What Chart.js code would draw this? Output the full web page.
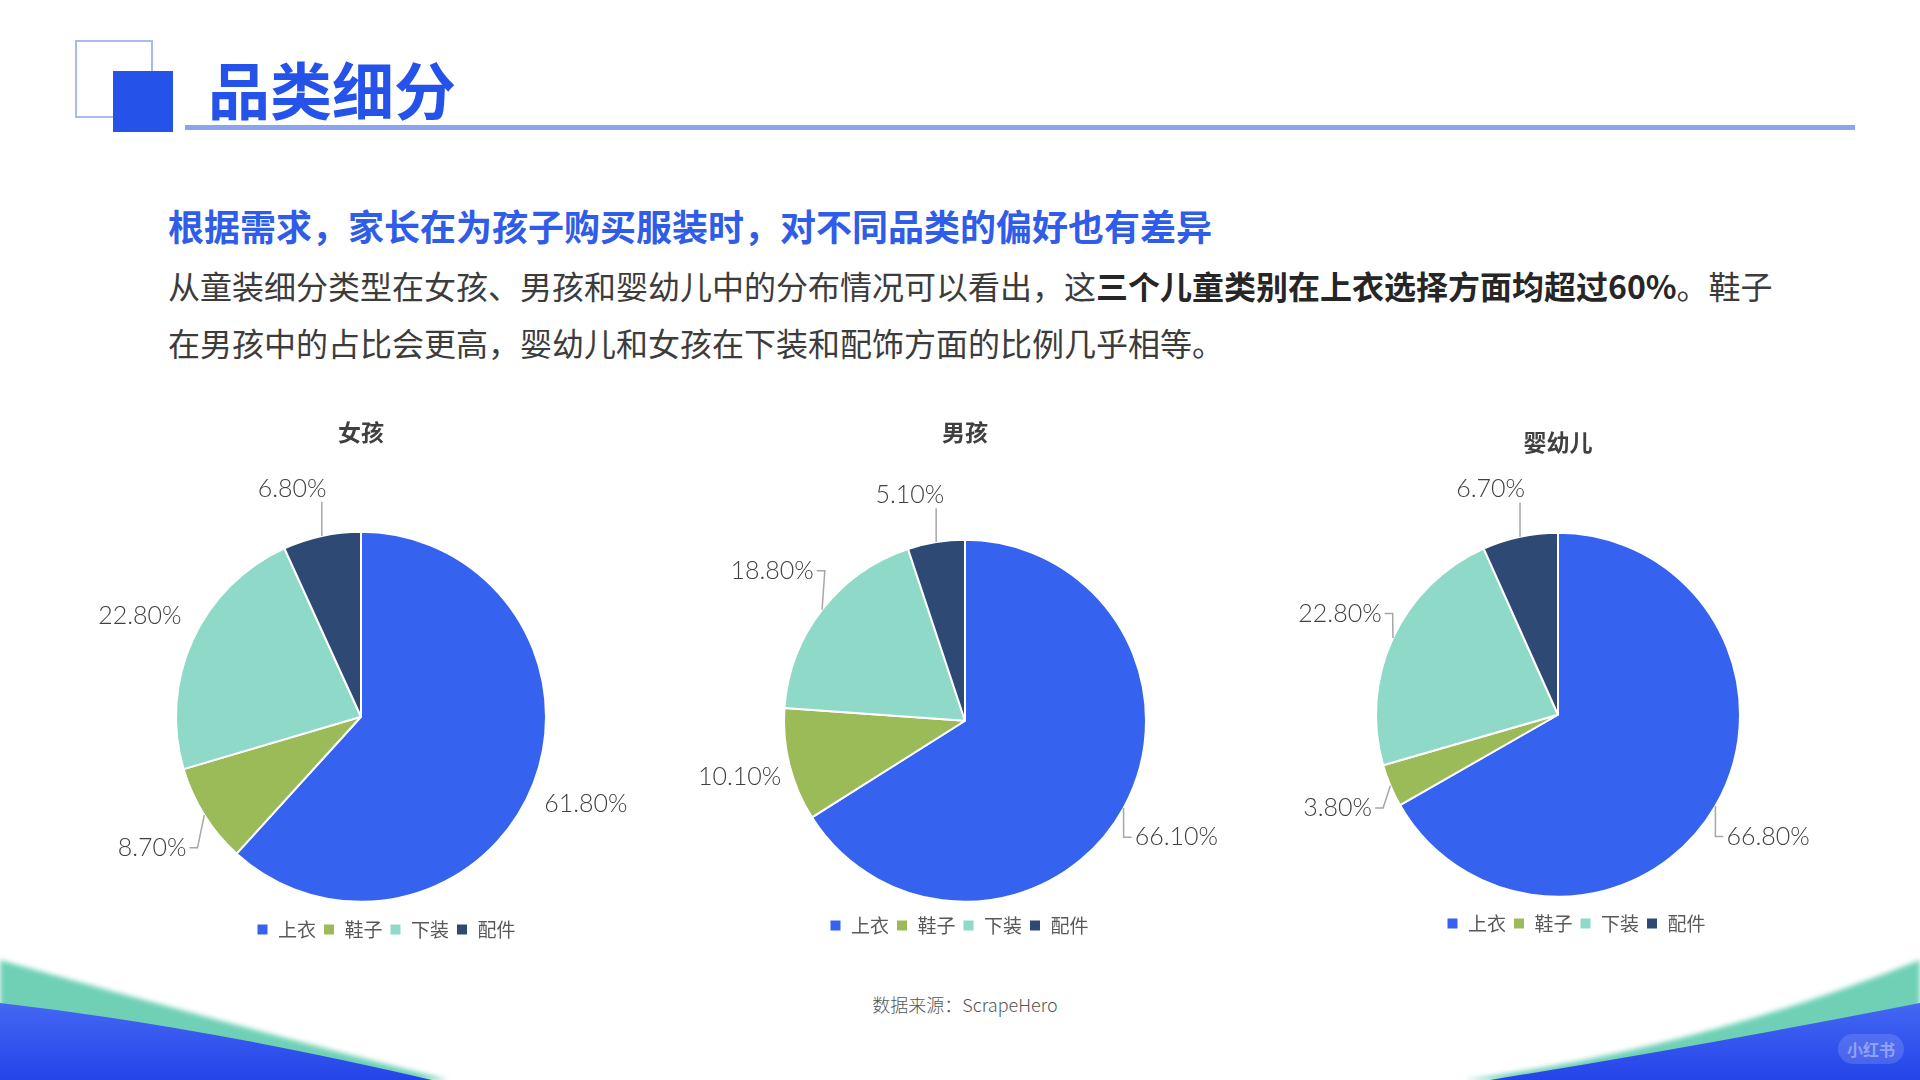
<!DOCTYPE html>
<html lang="zh-CN">
<head>
<meta charset="utf-8">
<title>品类细分</title>
<script src="https://cdn.jsdelivr.net/npm/chart.js@4.4.1/dist/chart.umd.min.js"></script>
<style>
  html, body { margin: 0; padding: 0; }
  body {
    width: 1920px; height: 1080px; position: relative; overflow: hidden;
    background: #fff;
    font-family: "Noto Sans CJK SC", "Noto Sans", sans-serif;
  }
  .sq-outline { position: absolute; left: 75px; top: 40px; width: 74px; height: 74px; border: 2px solid #a9b9f2; background: #fff; }
  .sq-fill { position: absolute; left: 113px; top: 71px; width: 60px; height: 61px; background: #2553ea; }
  .title { position: absolute; left: 208px; top: 50px; font-size: 62px; font-weight: 700; color: #2553ea; line-height: 76px; }
  .title-line { position: absolute; left: 185px; top: 125px; width: 1670px; height: 5px; background: #8aa5f0; }
  .subtitle { position: absolute; left: 168px; top: 203px; font-size: 36px; font-weight: 700; color: #2f5ce8; line-height: 44px; white-space: nowrap; }
  .body-text { position: absolute; left: 168px; top: 257px; font-size: 32px; line-height: 57px; color: #3c3c3c; white-space: nowrap; }
  .body-text b { color: #262626; font-weight: 700; }
  canvas { position: absolute; }
  .source { position: absolute; left: 0; width: 1930px; top: 991px; text-align: center; font-size: 18px; font-weight: 300; color: #555; }
  .waves { position: absolute; left: 0; top: 0; }
  .mark { position: absolute; left: 1838px; top: 1034px; width: 66px; height: 30px; border-radius: 15px; background: rgba(255,255,255,0.14); color: rgba(255,255,255,0.4); font-size: 16px; font-weight: 700; line-height: 30px; text-align: center; }
</style>
</head>
<body>

<svg class="waves" width="1920" height="1080" viewBox="0 0 1920 1080">
  <defs>
    <linearGradient id="blueGrad" x1="0" y1="0" x2="0" y2="1">
      <stop offset="0" stop-color="#4467f4"/>
      <stop offset="1" stop-color="#2444e8"/>
    </linearGradient>
    <filter id="soft" x="-5%" y="-20%" width="110%" height="140%">
      <feGaussianBlur stdDeviation="2.5"/>
    </filter>
  </defs>
  <!-- 左下の波 -->
  <path d="M0,960 Q220,1022 448,1080 L0,1080 Z" fill="#6fd0b6" filter="url(#soft)"/>
  <path d="M0,1003 Q200,1026 432,1080 L0,1080 Z" fill="url(#blueGrad)"/>
  <!-- 右下の波 -->
  <path d="M1920,960 Q1700,1048 1465,1080 L1920,1080 Z" fill="#6fd0b6" filter="url(#soft)"/>
  <path d="M1920,1003 Q1700,1046 1490,1080 L1920,1080 Z" fill="url(#blueGrad)"/>
</svg>

<div class="sq-outline"></div>
<div class="sq-fill"></div>
<div class="title">品类细分</div>
<div class="title-line"></div>

<div class="subtitle">根据需求，家长在为孩子购买服装时，对不同品类的偏好也有差异</div>
<div class="body-text">从童装细分类型在女孩、男孩和婴幼儿中的分布情况可以看出，这<b>三个儿童类别在上衣选择方面均超过60%</b>。鞋子<br>在男孩中的占比会更高，婴幼儿和女孩在下装和配饰方面的比例几乎相等。</div>

<canvas id="girlChart"></canvas>
<canvas id="boyChart"></canvas>
<canvas id="babyChart"></canvas>

<div class="source">数据来源：ScrapeHero</div>
<div class="mark">小红书</div>

<script>
// ============================================
// データ（グラフの値）
// ============================================
const categories = ["上衣", "鞋子", "下装", "配件"];
const groupNames = ["女孩", "男孩", "婴幼儿"];
const girlShares = [61.8, 8.7, 22.8, 6.8];
const boyShares = [66.1, 10.1, 18.8, 5.1];
const babyShares = [66.8, 3.8, 22.8, 6.7];
const sliceColors = ["#3563f0", "#9bbb59", "#8fd9c8", "#2e4a74"];

// 各円グラフの配置（中心・半径・タイトル位置・凡例位置・凡例の横ずれ）
const pieLayout = [
  { cx: 361, cy: 717, r: 185, titleY: 432, legendY: 930, legendShift: 25 },
  { cx: 965, cy: 721, r: 181, titleY: 432, legendY: 926, legendShift: -6 },
  { cx: 1558, cy: 715, r: 182, titleY: 442, legendY: 924, legendShift: 18 },
];

Chart.defaults.font.family = "'Noto Sans CJK SC', 'Noto Sans', sans-serif";

// ============================================
// 外側ラベル＋引き出し線のプラグイン
// ============================================
const outsideLabels = {
  id: "outsideLabels",
  afterDatasetsDraw(chart) {
    const ctx = chart.ctx;
    const meta = chart.getDatasetMeta(0);
    const values = chart.data.datasets[0].data;
    ctx.save();
    ctx.font = "300 25px Lato, 'Noto Sans', sans-serif";
    ctx.textAlign = "center";
    ctx.textBaseline = "middle";
    meta.data.forEach((arc, i) => {
      const p = arc.getProps(["x", "y", "startAngle", "endAngle", "outerRadius"], true);
      let mid = (p.startAngle + p.endAngle) / 2;
      // 真上付近のラベルは少し左へ逃がす
      if (Math.sin(mid) < -0.9) mid -= 0.08;
      const dx = Math.cos(mid), dy = Math.sin(mid);
      const text = values[i].toFixed(2) + "%";
      const w = ctx.measureText(text).width, h = 20;
      // 斜め方向のラベルは少し遠くに置く
      const gap = 40 + 24 * Math.abs(2 * dx * dy);
      const lx = p.x + dx * (p.outerRadius + gap);
      const ly = p.y + dy * (p.outerRadius + gap);
      const em = (p.startAngle + p.endAngle) / 2;
      const ex = p.x + Math.cos(em) * p.outerRadius, ey = p.y + Math.sin(em) * p.outerRadius;
      const left = lx - w / 2 - 3, right = lx + w / 2 + 3;
      const top = ly - h / 2 - 3, bottom = ly + h / 2 + 3;
      const px = Math.min(Math.max(ex, left), right);
      const py = Math.min(Math.max(ey, top), bottom);
      if (Math.hypot(ex - px, ey - py) > 14) {
        ctx.beginPath();
        ctx.strokeStyle = "#a6a6a6";
        ctx.lineWidth = 1.5;
        ctx.moveTo(ex, ey);
        if (px === left || px === right) {
          const s = px === right ? 1 : -1;
          ctx.lineTo(px + s * 8, ly);
          ctx.lineTo(px, ly);
        } else {
          ctx.lineTo(px, py);
        }
        ctx.stroke();
      }
      ctx.fillStyle = "#404040";
      ctx.fillText(text, lx, ly);
    });
    ctx.restore();
  },
};

// 凡例を横にずらすプラグイン
const legendShift = {
  id: "legendShift",
  afterLayout(chart, args, opts) {
    if (chart.legend) {
      chart.legend.left += opts.shift;
      chart.legend.right += opts.shift;
    }
  },
};

// ============================================
// 円グラフを描く関数
// ============================================
function drawPie(id, title, values, geo) {
  const T = 400, W = 600;
  const legendFont = 19, legendPad = 7;
  const legendH = legendFont + legendPad + 10;
  const legendTop = geo.legendY - (legendPad + legendFont / 2);
  const areaTop = 2 * geo.cy - legendTop;
  const titleLH = 23 * 1.2;
  const titlePadTop = geo.titleY - T - titleLH / 2;
  const titlePadBottom = areaTop - (T + titlePadTop + titleLH);
  const H = legendTop + legendH - T;

  const canvas = document.getElementById(id);
  canvas.width = W;
  canvas.height = H;
  canvas.style.left = (geo.cx - W / 2) + "px";
  canvas.style.top = T + "px";

  new Chart(canvas.getContext("2d"), {
    type: "pie",
    data: {
      labels: categories,
      datasets: [
        {
          data: values,
          backgroundColor: sliceColors,
          borderColor: "#ffffff",
          borderWidth: 2,
          radius: geo.r,
        },
      ],
    },
    options: {
      responsive: false,
      animation: false,
      plugins: {
        title: {
          display: true,
          text: title,
          color: "#404040",
          font: { size: 23, weight: "bold" },
          padding: { top: titlePadTop, bottom: titlePadBottom },
        },
        legend: {
          position: "bottom",
          labels: {
            color: "#595959",
            font: { size: legendFont },
            boxWidth: 12,
            boxHeight: 12,
            padding: legendPad,
          },
        },
        legendShift: { shift: geo.legendShift },
        tooltip: { enabled: false },
      },
    },
    plugins: [outsideLabels, legendShift],
  });
}

drawPie("girlChart", groupNames[0], girlShares, pieLayout[0]);
drawPie("boyChart", groupNames[1], boyShares, pieLayout[1]);
drawPie("babyChart", groupNames[2], babyShares, pieLayout[2]);
</script>
</body>
</html>
